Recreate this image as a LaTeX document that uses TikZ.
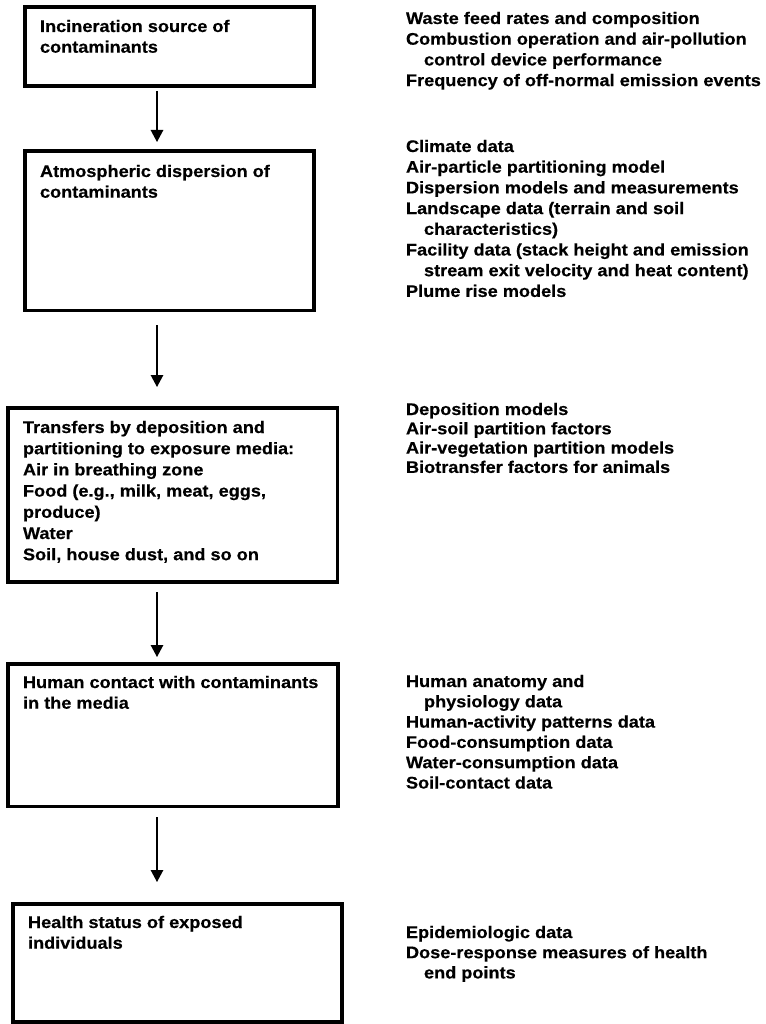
\documentclass[tikz,border=0pt]{standalone}
\usepackage{fontspec}
\usetikzlibrary{arrows.meta}
\newfontfamily\hv[FakeStretch=1.08, BoldFeatures={FakeBold=0.4}]{Liberation Sans}
\newcommand\rows[1]{\begin{tabular}[t]{@{}l@{}}#1\end{tabular}}
\newcommand\ind{\hspace*{18pt}}
\tikzset{
  box/.style={draw=black, line width=3.6pt, inner sep=0pt, outer sep=0pt, anchor=north west},
  txt/.style={anchor=base west, inner sep=0pt, outer sep=0pt,
              font=\hv\bfseries\fontsize{16.8}{20.7}\selectfont},
  arr/.style={draw=black, line width=1.3pt, -{Triangle[width=12.5pt,length=12pt]}}
}
\begin{document}
\begin{tikzpicture}[x=1pt,y=-1pt]
\useasboundingbox[fill=white] (0,0) rectangle (765,1024);

% stage boxes
\node[box, minimum width=289pt, minimum height=79.3pt]  (b1) at (24.7,7) {};
\node[box, minimum width=289pt, minimum height=159pt]   (b2) at (24.7,151.3) {};
\node[box, minimum width=329.6pt, minimum height=174pt] (b3) at (7.7,408) {};
\node[box, minimum width=330.3pt, minimum height=142.6pt] (b4) at (7.7,663.7) {};
\node[box, minimum width=329.3pt, minimum height=118pt] (b5) at (12.7,903.7) {};

% stage titles
\node[txt] (t1) at (40,32) {\rows{Incineration source of\\contaminants}};
\node[txt] (t2) at (40,177) {\rows{Atmospheric dispersion of\\contaminants}};
\node[txt, font=\hv\bfseries\fontsize{16.8}{21.2}\selectfont] (t3) at (23,433)
  {\rows{Transfers by deposition and\\partitioning to exposure media:\\Air in breathing zone\\Food (e.g., milk, meat, eggs,\\produce)\\Water\\Soil, house dust, and so on}};
\node[txt] (t4) at (23,688) {\rows{Human contact with contaminants\\in the media}};
\node[txt] (t5) at (28,928) {\rows{Health status of exposed\\individuals}};

% data needed at each stage
\node[txt] (d1) at (406,24) {\rows{Waste feed rates and composition\\Combustion operation and air-pollution\\\ind control device performance\\Frequency of off-normal emission events}};
\node[txt] (d2) at (406,152) {\rows{Climate data\\Air-particle partitioning model\\Dispersion models and measurements\\Landscape data (terrain and soil\\\ind characteristics)\\Facility data (stack height and emission\\\ind stream exit velocity and heat content)\\Plume rise models}};
\node[txt, font=\hv\bfseries\fontsize{16.8}{19.3}\selectfont] (d3) at (406,415) {\rows{Deposition models\\Air-soil partition factors\\Air-vegetation partition models\\Biotransfer factors for animals}};
\node[txt, font=\hv\bfseries\fontsize{16.8}{20.3}\selectfont] (d4) at (406,687) {\rows{Human anatomy and\\\ind physiology data\\Human-activity patterns data\\Food-consumption data\\Water-consumption data\\Soil-contact data}};
\node[txt, font=\hv\bfseries\fontsize{16.8}{20.2}\selectfont] (d5) at (406,938) {\rows{Epidemiologic data\\Dose-response measures of health\\\ind end points}};

% flow arrows
\coordinate (ax) at (157,0);
\draw[arr, shorten <=4.7pt, shorten >=9.3pt] (b1.south -| ax) -- (b2.north -| ax);
\draw[arr, shorten <=14.7pt, shorten >=21pt] (b2.south -| ax) -- (b3.north -| ax);
\draw[arr, shorten <=10pt, shorten >=6.7pt] (b3.south -| ax) -- (b4.north -| ax);
\draw[arr, shorten <=10.7pt, shorten >=21.7pt] (b4.south -| ax) -- (b5.north -| ax);
\end{tikzpicture}
\end{document}
